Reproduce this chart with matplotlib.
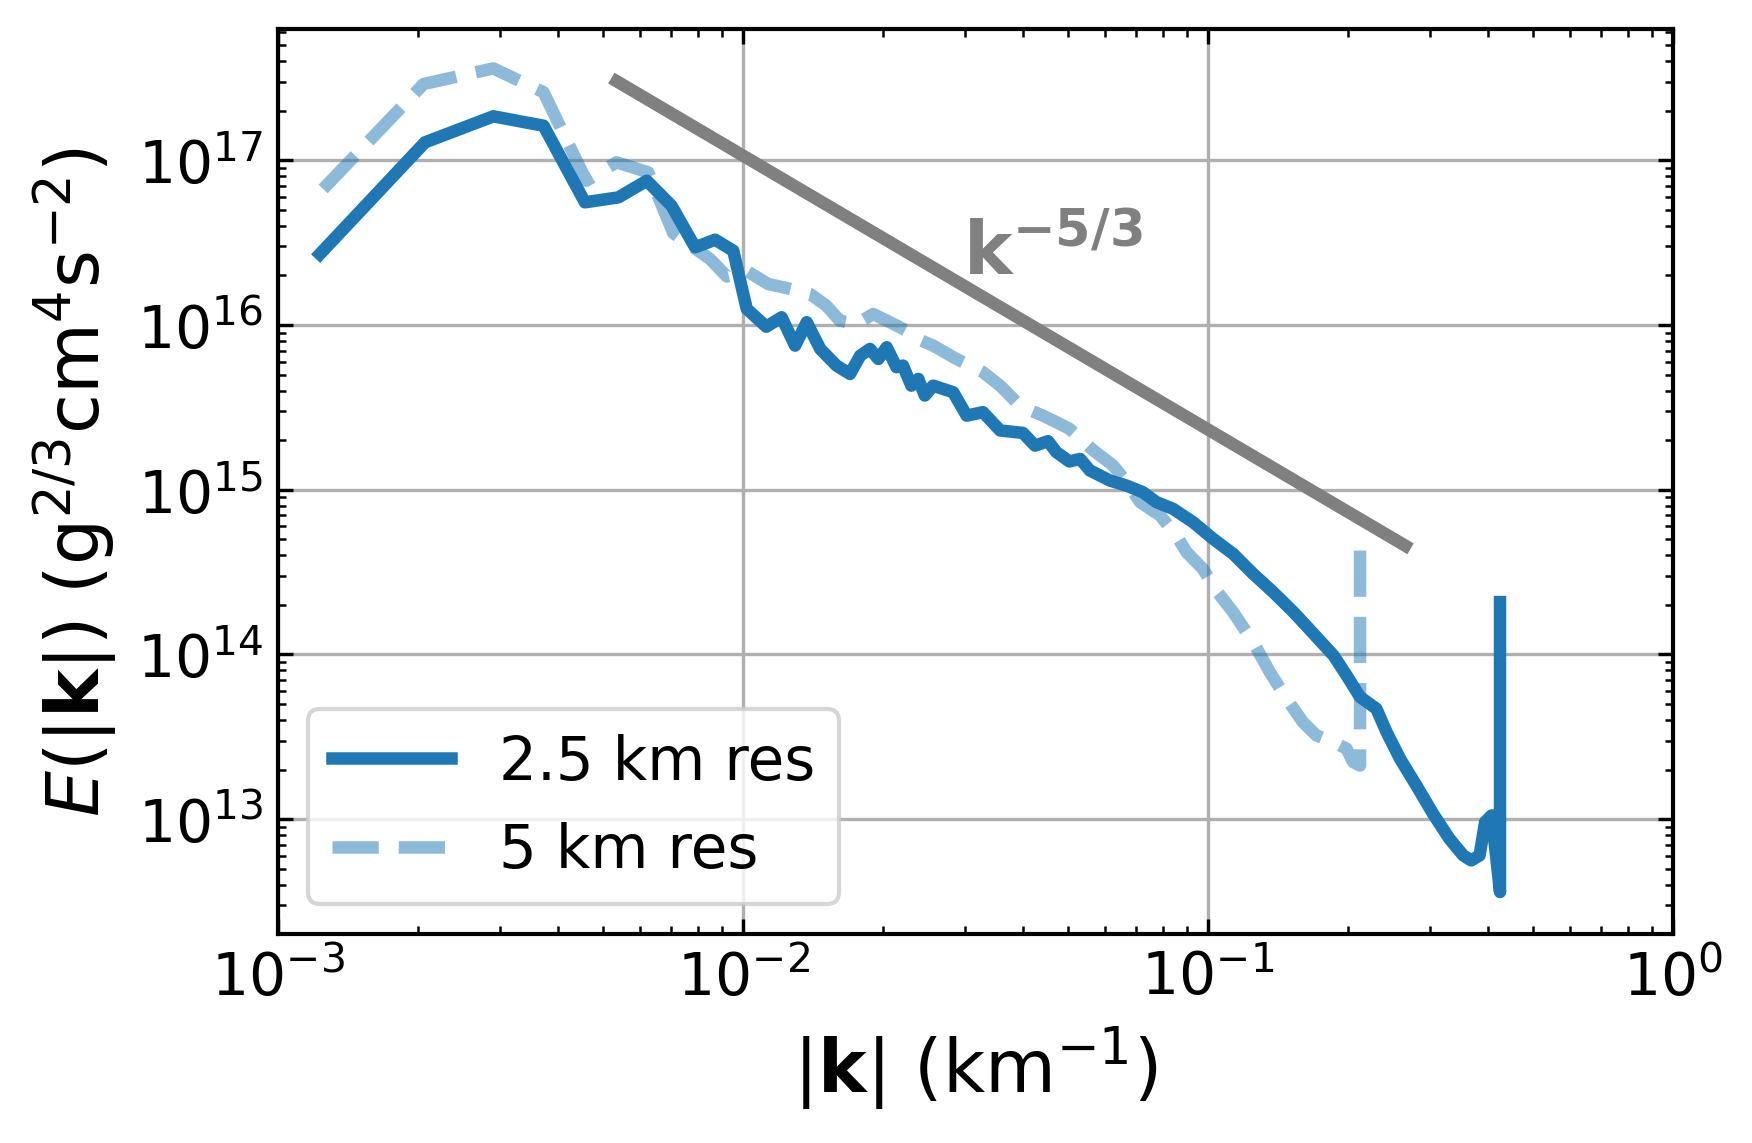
import numpy as np
import matplotlib
matplotlib.use("Agg")
import matplotlib.pyplot as plt

# values (log10 of |k| in km^-1 and of E)
log_k_25 = [-2.910, -2.684, -2.537, -2.429, -2.340, -2.268, -2.207, -2.154,
            -2.103, -2.060, -2.021, -1.992, -1.950, -1.917, -1.888, -1.863,
            -1.834, -1.799, -1.770, -1.748, -1.727, -1.709, -1.691, -1.670,
            -1.656, -1.638, -1.623, -1.609, -1.591, -1.548, -1.519, -1.484,
            -1.447, -1.398, -1.372, -1.344, -1.326, -1.298, -1.275, -1.254,
            -1.232, -1.211, -1.175, -1.140, -1.111, -1.075, -1.032, -0.989,
            -0.946, -0.903, -0.860, -0.816, -0.773, -0.730, -0.702, -0.673,
            -0.638, -0.616, -0.587, -0.552, -0.516, -0.481, -0.451, -0.434,
            -0.416, -0.404, -0.390, -0.372, -0.372]
log_E_25 = [16.431, 17.109, 17.267, 17.210, 16.745, 16.775, 16.876, 16.725,
            16.472, 16.518, 16.451, 16.098, 15.990, 16.047, 15.875, 16.017,
            15.855, 15.754, 15.703, 15.814, 15.855, 15.794, 15.865, 15.744,
            15.754, 15.632, 15.673, 15.572, 15.632, 15.592, 15.450, 15.471,
            15.360, 15.345, 15.268, 15.295, 15.228, 15.172, 15.187, 15.117,
            15.086, 15.056, 15.025, 14.985, 14.925, 14.884, 14.803, 14.702,
            14.611, 14.490, 14.379, 14.257, 14.126, 13.994, 13.873, 13.742,
            13.671, 13.529, 13.367, 13.205, 13.033, 12.882, 12.780, 12.750,
            12.780, 12.983, 13.023, 12.558, 14.318]

log_k_5 = [-2.903, -2.687, -2.537, -2.429, -2.337, -2.272, -2.204, -2.150,
           -2.071, -2.035, -1.990, -1.946, -1.913, -1.856, -1.821, -1.792,
           -1.756, -1.720, -1.691, -1.641, -1.616, -1.591, -1.541, -1.512,
           -1.484, -1.447, -1.412, -1.390, -1.355, -1.326, -1.298, -1.247,
           -1.204, -1.175, -1.146, -1.103, -1.068, -1.046, -1.011, -0.982,
           -0.946, -0.903, -0.867, -0.831, -0.796, -0.767, -0.730, -0.702,
           -0.688, -0.673, -0.673]
log_E_5 = [16.826, 17.463, 17.558, 17.413, 16.876, 16.988, 16.927, 16.558,
           16.401, 16.295, 16.325, 16.249, 16.229, 16.189, 16.118, 16.027,
           16.007, 16.067, 16.027, 15.956, 15.905, 15.875, 15.794, 15.754,
           15.714, 15.632, 15.532, 15.491, 15.450, 15.410, 15.370, 15.240,
           15.147, 15.046, 14.925, 14.844, 14.722, 14.621, 14.520, 14.388,
           14.257, 14.075, 13.893, 13.731, 13.590, 13.509, 13.468, 13.428,
           13.347, 13.326, 14.702]

# k^-5/3 reference line end points
k_ref = [0.00535, 0.2655]
E_ref = [3.02e17, 4.58e14]

labels = ["2.5 km res", "5 km res"]

k25 = 10 ** np.array(log_k_25)
E25 = 10 ** np.array(log_E_25)
k5 = 10 ** np.array(log_k_5)
E5 = 10 ** np.array(log_E_5)

fig = plt.figure(figsize=(5.84, 3.8133), dpi=300)
ax = fig.add_axes([0.1587, 0.1827, 0.7962, 0.7911])

ax.plot(k25, E25, color="#1f77b4", lw=3, label=labels[0])
ax.plot(k5, E5, color="#1f77b4", alpha=0.5, lw=3, ls="--", label=labels[1])
ax.plot(k_ref, E_ref, color="gray", lw=3)
ax.text(0.0297, 2.04e16, r"$\mathbf{k^{-5/3}}$", color="gray", fontsize=17.5)

ax.set_xscale("log")
ax.set_yscale("log")
ax.set_xlim(1e-3, 1e0)
ax.set_ylim(2.01e12, 6.27e17)

ax.grid(True, which="major", color="#b0b0b0", lw=0.8)
ax.set_axisbelow(True)
ax.tick_params(which="both", direction="in", top=True, right=True, labelsize=14)
for s in ax.spines.values():
    s.set_linewidth(1.0)

ax.set_xlabel(r"$|\mathbf{k}|$ (km$^{-1}$)", fontsize=17.5)
ax.set_ylabel(r"$E(|\mathbf{k}|)$ (g$^{2/3}$cm$^4$s$^{-2}$)", fontsize=17.5)

ax.legend(loc="lower left", fontsize=14.3)

fig.savefig("out.png", dpi=300)
